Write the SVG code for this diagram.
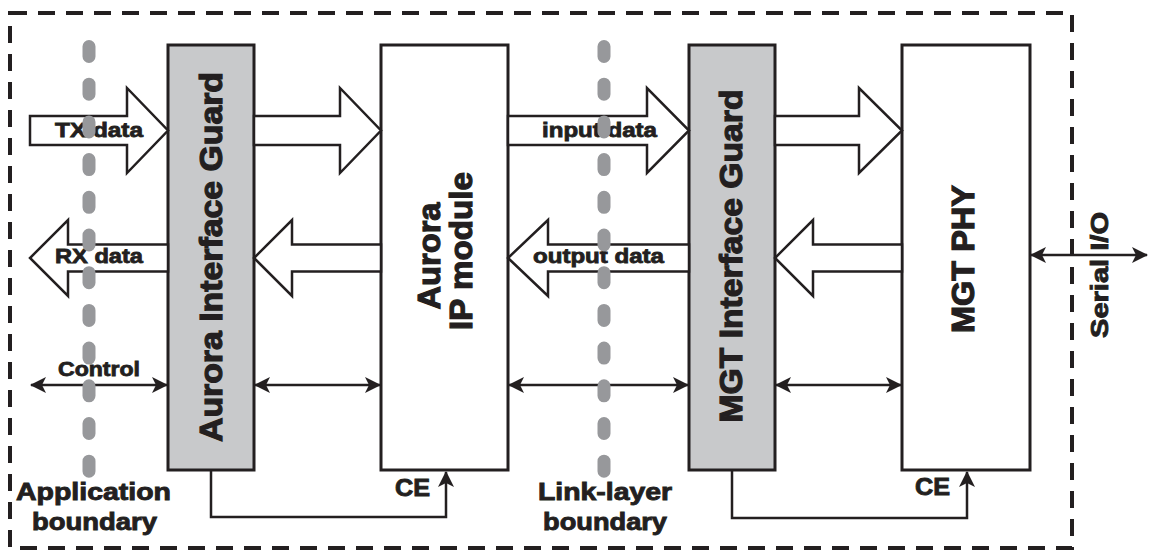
<svg xmlns="http://www.w3.org/2000/svg" width="1149" height="550" viewBox="0 0 1149 550">
<style>
.frame{fill:none;stroke:#231f20;stroke-width:4;stroke-dasharray:17 11}
.guard{fill:#c8c9cb;stroke:#231f20;stroke-width:3}
.box{fill:#ffffff;stroke:#231f20;stroke-width:3}
.blk{fill:#ffffff;stroke:#231f20;stroke-width:2.5;stroke-linejoin:miter}
.ln{fill:none;stroke:#231f20;stroke-width:2.5}
.bnd{fill:none;stroke:#97989b;stroke-width:13;stroke-linecap:round;stroke-dasharray:10 27.7}
text{font-family:"Liberation Sans",Arial,sans-serif;font-weight:bold;fill:#231f20;stroke:#231f20;text-anchor:middle}
.s{font-size:20px;stroke-width:0.8}
.m{font-size:24px;stroke-width:0.9}
.l{font-size:32px;stroke-width:1.2}
</style>
<defs>
<marker id="ah" viewBox="0 0 16 16" refX="15" refY="8" markerWidth="16" markerHeight="16" markerUnits="userSpaceOnUse" orient="auto-start-reverse">
<path d="M0,0 L16,8 L0,16 L4,8 Z" fill="#231f20"/>
</marker>
</defs>
<rect width="1149" height="550" fill="#ffffff"/>
<path class="frame" d="M10,13 H1072 V548 H10 Z"/>

<g id="aurora-guard">
<rect class="guard" x="168" y="45" width="86" height="425"/>
<text class="l" transform="translate(222,257) rotate(-90)" textLength="370" lengthAdjust="spacingAndGlyphs">Aurora Interface Guard</text>
</g>
<g id="aurora-ip">
<rect class="box" x="381" y="45" width="127" height="425"/>
<text class="l" transform="translate(440,256) rotate(-90)" textLength="107" lengthAdjust="spacingAndGlyphs">Aurora</text>
<text class="l" transform="translate(472,251) rotate(-90)" textLength="158" lengthAdjust="spacingAndGlyphs">IP module</text>
</g>
<g id="mgt-guard">
<rect class="guard" x="689" y="45" width="86" height="425"/>
<text class="l" transform="translate(742,256) rotate(-90)" textLength="333" lengthAdjust="spacingAndGlyphs">MGT Interface Guard</text>
</g>
<g id="mgt-phy">
<rect class="box" x="902" y="45" width="128" height="425"/>
<text class="l" transform="translate(974,259) rotate(-90)" textLength="148" lengthAdjust="spacingAndGlyphs">MGT PHY</text>
</g>

<g id="connectors">
<path class="blk" d="M30,116 H127 V88 L168,130.5 L127,173 V145 H30 Z"/>
<path class="blk" d="M254,116 H340 V88 L381,130.5 L340,173 V145 H254 Z"/>
<path class="blk" d="M508,116 H647 V88 L689,130.5 L647,173 V145 H508 Z"/>
<path class="blk" d="M775,116 H859 V88 L902,130.5 L859,173 V145 H775 Z"/>
<path class="blk" d="M168,244.5 H68 V220 L30,258 L68,296 V271.5 H168 Z"/>
<path class="blk" d="M381,244.5 H292 V220 L254,258 L292,296 V271.5 H381 Z"/>
<path class="blk" d="M689,244.5 H548 V220 L508,258 L548,296 V271.5 H689 Z"/>
<path class="blk" d="M902,244.5 H813 V220 L775,258 L813,296 V271.5 H902 Z"/>
<line class="ln" x1="31" y1="385" x2="167" y2="385" marker-start="url(#ah)" marker-end="url(#ah)"/>
<line class="ln" x1="255" y1="385" x2="380" y2="385" marker-start="url(#ah)" marker-end="url(#ah)"/>
<line class="ln" x1="509" y1="385" x2="688" y2="385" marker-start="url(#ah)" marker-end="url(#ah)"/>
<line class="ln" x1="776" y1="385" x2="901" y2="385" marker-start="url(#ah)" marker-end="url(#ah)"/>
<line class="ln" x1="1031" y1="255" x2="1147" y2="255" marker-start="url(#ah)" marker-end="url(#ah)"/>
<path class="ln" d="M211,471 V517 H446 V472" marker-end="url(#ah)"/>
<path class="ln" d="M732,471 V518 H967 V472" marker-end="url(#ah)"/>
</g>

<g id="labels">
<text class="s" x="99" y="137" textLength="88" lengthAdjust="spacingAndGlyphs">TX data</text>
<text class="s" x="99" y="263" textLength="88" lengthAdjust="spacingAndGlyphs">RX data</text>
<text class="s" x="99" y="376" textLength="82" lengthAdjust="spacingAndGlyphs">Control</text>
<text class="s" x="599.5" y="137" textLength="115" lengthAdjust="spacingAndGlyphs">input data</text>
<text class="s" x="598.5" y="263" textLength="131" lengthAdjust="spacingAndGlyphs">output data</text>
<text class="m" x="412.5" y="496" textLength="35" lengthAdjust="spacingAndGlyphs">CE</text>
<text class="m" x="932.5" y="495" textLength="35" lengthAdjust="spacingAndGlyphs">CE</text>
<text class="m" x="93.5" y="500" textLength="155" lengthAdjust="spacingAndGlyphs">Application</text>
<text class="m" x="94.5" y="530" textLength="125" lengthAdjust="spacingAndGlyphs">boundary</text>
<text class="m" x="605" y="500" textLength="134" lengthAdjust="spacingAndGlyphs">Link-layer</text>
<text class="m" x="605" y="530" textLength="124" lengthAdjust="spacingAndGlyphs">boundary</text>
<text class="m" transform="translate(1108,275) rotate(-90)" font-size="23" textLength="126" lengthAdjust="spacingAndGlyphs">Serial I/O</text>
</g>

<g id="boundaries">
<line class="bnd" x1="89" y1="46.5" x2="89" y2="471.5"/>
<line class="bnd" x1="604" y1="46.5" x2="604" y2="471.5"/>
</g>
</svg>
